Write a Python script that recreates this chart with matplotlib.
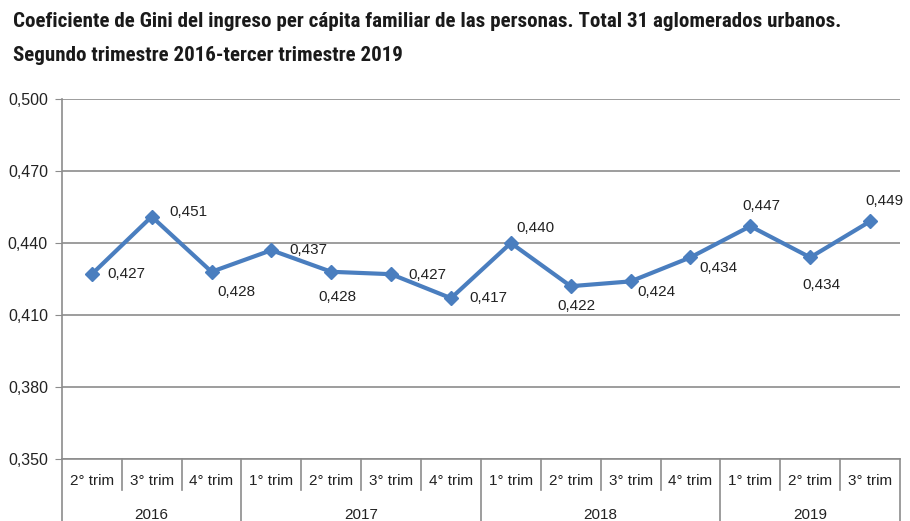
import numpy as np
import matplotlib
matplotlib.use("Agg")
import matplotlib.pyplot as plt
import matplotlib.transforms as mtransforms
from matplotlib import font_manager

# Data
trimestres = ["2° trim", "3° trim", "4° trim",
              "1° trim", "2° trim", "3° trim", "4° trim",
              "1° trim", "2° trim", "3° trim", "4° trim",
              "1° trim", "2° trim", "3° trim"]
years = ["2016", "2017", "2018", "2019"]
year_counts = [3, 4, 4, 3]
gini = [0.427, 0.451, 0.428, 0.437, 0.428, 0.427, 0.417,
        0.440, 0.422, 0.424, 0.434, 0.447, 0.434, 0.449]
yticks = [0.350, 0.380, 0.410, 0.440, 0.470, 0.500]
title1 = "Coeficiente de Gini del ingreso per cápita familiar de las personas. Total 31 aglomerados urbanos."
title2 = "Segundo trimestre 2016-tercer trimestre 2019"

# label offsets in pixels (dx, dy)
offsets = [(35, 0), (37, 5), (25, -20), (37, 0), (6, -25), (36, -1), (37, 0),
           (25, 15), (6, -20), (26, -11), (28, -11), (11, 20), (11, -28), (14, 20)]

plt.rcParams['font.family'] = ['Liberation Sans', 'DejaVu Sans']
blue = "#4a7ebf"
grey = "#8c8c8c"
txt = "#222222"

fig = plt.figure(figsize=(9.10, 5.21), dpi=100)
ax = fig.add_axes([0.068, 0.119, 0.921, 0.691])

x = np.arange(len(gini))
ax.plot(x, gini, color=blue, lw=3, marker="D", ms=7, zorder=3)
for i, v in enumerate(gini):
    ax.annotate(f"{v:.3f}".replace(".", ","), (x[i], v), xytext=offsets[i],
                textcoords="offset pixels", ha="center", va="center",
                fontsize=11, color=txt)

ax.set_xlim(-0.5, len(gini) - 0.5)
ax.set_ylim(0.350, 0.500)
ax.set_yticks(yticks)
ax.set_yticklabels([f"{t:.3f}".replace(".", ",") for t in yticks], fontsize=11.5, color=txt)
ax.yaxis.grid(True, color=grey, lw=1.2)
ax.set_axisbelow(True)
ax.tick_params(axis="y", length=5, color=grey, pad=5)
ax.set_xticks([])
for s in ["top", "right"]:
    ax.spines[s].set_visible(False)
for s in ["left", "bottom"]:
    ax.spines[s].set_color(grey)
    ax.spines[s].set_linewidth(1.2)

# category axis with boxes
trans = mtransforms.blended_transform_factory(ax.transData, ax.transAxes)
for i, lab in enumerate(trimestres):
    ax.text(i, -0.061, lab, transform=trans, ha="center", va="center",
            fontsize=11, color=txt)
bounds = np.cumsum([0] + year_counts) - 0.5
for b in np.arange(-0.5, len(gini), 1.0):
    if b in bounds:
        ax.plot([b, b], [0, -0.2], transform=trans, color=grey, lw=1.2, clip_on=False)
    else:
        ax.plot([b, b], [0, -0.086], transform=trans, color=grey, lw=1.2, clip_on=False)
for j, yr in enumerate(years):
    mid = (bounds[j] + bounds[j + 1]) / 2
    ax.text(mid, -0.156, yr, transform=trans, ha="center", va="center",
            fontsize=11, color=txt)

# title: prefer a narrow font, then size it to the reference width
installed = {f.name for f in font_manager.fontManager.ttflist}
title_font = 'Liberation Sans'
for cand in ['Liberation Sans Narrow', 'DejaVu Sans Condensed', 'Roboto Condensed']:
    if cand in installed:
        title_font = cand
        break
t1 = fig.text(0.014, 0.958, title1, family=[title_font, 'DejaVu Sans'],
              fontweight="bold", fontsize=14.5, color="#1a1a1a", va="center")
fig.canvas.draw()
w = t1.get_window_extent().width
fs = 14.5 * 830 / w
t1.set_fontsize(fs)
fig.text(0.014, 0.893, title2, family=[title_font, 'DejaVu Sans'],
         fontweight="bold", fontsize=fs, color="#1a1a1a", va="center")

fig.savefig("out.png", dpi=100)
